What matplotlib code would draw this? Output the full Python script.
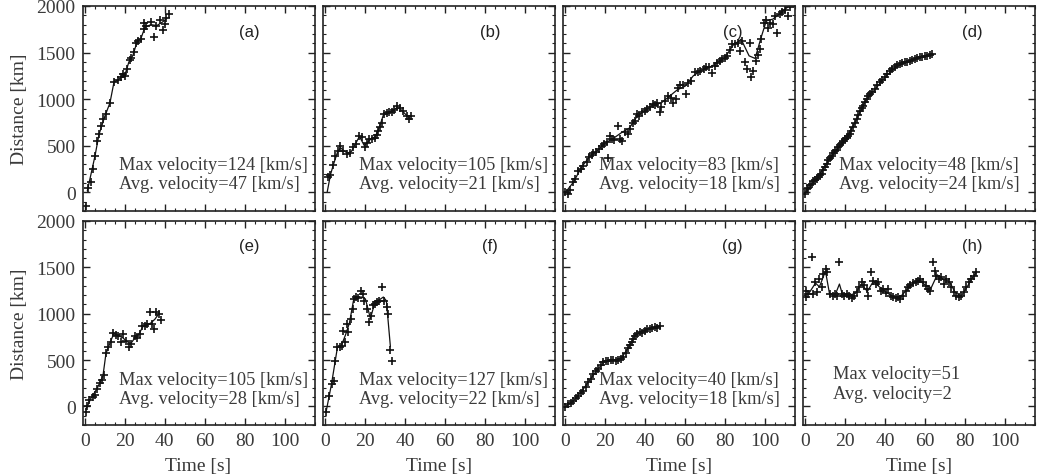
import numpy as np
import matplotlib
matplotlib.use("Agg")
import matplotlib.pyplot as plt
from matplotlib.ticker import MultipleLocator

# ---- measured tracks: marker points (t in s, d in km) and fitted path ----
t_a = [0.5, 1.7, 2.8, 4.2, 5.0, 6.2, 7.0, 8.0, 9.2, 10.5, 12.5, 14.7, 16.7, 17.8, 19.2, 20.0, 21.2,
       22.5, 23.3, 24.5, 25.5, 26.7, 28.3, 29.5, 29.8, 30.8, 33.3, 34.5, 35.8, 37.5, 39.2, 40.0, 40.8, 42.2]
d_a = [-141, 48, 116, 252, 387, 555, 626, 715, 787, 840, 958, 1180, 1208, 1233, 1269, 1245, 1322,
       1422, 1447, 1501, 1608, 1626, 1651, 1750, 1815, 1786, 1829, 1672, 1786, 1850, 1743, 1808, 1875, 1911]
lt_a = [1.2, 5, 7, 10, 12.5, 14.5, 18, 20, 22, 24, 26, 28, 30, 33, 36, 39, 41]
ld_a = [19, 390, 620, 820, 960, 1180, 1230, 1260, 1400, 1470, 1610, 1650, 1770, 1800, 1790, 1830, 1870]

t_b = [1.4, 2.5, 3.9, 4.75, 6.4, 7.2, 8.9, 10.9, 12.25, 13.9, 15.25, 16.9, 18.1, 19.75, 20.6, 21.9,
       23.1, 24.75, 25.6, 26.4, 27.25, 28.1, 29.25, 30.6, 31.9, 33.1, 34.25, 35.9, 37.25, 38.9, 40.9,
       41.9, 42.75]
d_b = [163, 188, 298, 394, 448, 501, 448, 412, 423, 484, 520, 608, 590, 484, 530, 573,
       573, 580, 615, 662, 697, 743, 840, 851, 858, 866, 883, 923, 901, 876, 816,
       787, 823]
lt_b = [0.9, 2.5, 4, 6, 7.5, 9, 11, 13, 15, 17, 19.5, 22, 25, 27, 29, 32, 35, 37, 40, 42]
ld_b = [9, 190, 300, 430, 480, 450, 420, 440, 520, 600, 500, 560, 600, 700, 830, 855, 900, 905, 840, 800]

t_c = [0.0, 1.4, 2.25, 3.9, 4.75, 6.4, 7.6, 8.9, 10.6, 11.9, 13.1, 13.9, 15.25, 16.9, 18.1, 19.4,
       20.6, 21.4, 22.25, 23.4, 24.4, 26.4, 27.25, 28.1, 29.75, 31.4, 32.25, 33.6, 34.75, 35.9,
       36.9, 38.1, 39.75, 40.9, 42.25, 43.6, 44.75, 45.9, 47.25, 48.1, 49.75, 51.4, 52.75, 53.9,
       55.25, 56.4, 57.6, 58.9, 60.25, 61.4, 63.1, 64.75, 66.4, 67.6, 69.25, 70.6, 71.9, 73.6,
       74.75, 75.9, 77.25, 78.6, 79.75, 80.9, 82.25, 83.6, 84.75, 86.4, 87.25, 88.6, 89.75, 90.9,
       92.25, 93.1, 93.9, 95.6, 96.4, 97.25, 98.1, 99.25, 100.25, 101.4, 102.6, 103.9, 104.75,
       105.9, 107.25, 108.6, 109.75, 111.4, 112.6]
d_c = [9, -16, 30, 109, 145, 233, 251, 287, 323, 376, 401, 423, 437, 466, 494, 519,
       544, 366, 601, 573, 566, 709, 573, 555, 651, 626, 680, 744, 769, 840,
       816, 858, 876, 894, 912, 948, 937, 958, 858, 912, 983, 1030, 1009, 958,
       1001, 1116, 1152, 1152, 1055, 1173, 1198, 1294, 1287, 1305, 1323, 1341, 1341, 1280,
       1359, 1388, 1413, 1431, 1438, 1459, 1529, 1590, 1590, 1608, 1519, 1626, 1394, 1323,
       1608, 1234, 1305, 1413, 1474, 1536, 1651, 1822, 1851, 1768, 1815, 1804, 1893,
       1715, 1911, 1936, 1958, 1893, 1993]
lt_c = [0, 4, 8, 12, 16, 20, 24, 28, 32, 36, 40, 44, 48, 52, 56, 60, 64, 68, 72, 76, 80, 84,
        88, 92, 95, 98, 100.6, 104, 108, 112]
ld_c = [0, 110, 270, 380, 450, 530, 580, 640, 690, 820, 880, 940, 960, 1030, 1100, 1140, 1250,
        1310, 1340, 1390, 1450, 1580, 1643, 1465, 1437, 1661, 1839, 1860, 1930, 2000]

t_d = [0.0, 0.6, 1.5, 2.3, 3.1, 4.0, 4.8, 5.6, 6.5, 7.3, 8.1, 9.0, 9.8, 10.6, 11.5, 12.3, 13.1,
       14.0, 14.8, 15.6, 16.5, 17.3, 18.1, 19.0, 19.8, 20.6, 21.4, 22.25, 23.0, 23.9, 24.8, 25.6,
       26.4, 27.25, 28.1, 28.9, 29.8, 30.6, 31.4, 32.25, 33.5, 34.75, 36.0, 37.25, 38.5, 39.75,
       41.0, 42.25, 43.5, 44.75, 46.0, 47.25, 48.5, 49.75, 51.0, 52.25, 53.5, 54.75, 56.0, 57.25,
       58.5, 59.75, 61.0, 62.25, 63.6]
d_d = [-20, 34, 45, 80, 91, 118, 132, 145, 170, 185, 198, 240, 270, 305, 345, 372, 394,
       420, 440, 458, 490, 505, 530, 548, 570, 580, 600, 626, 660, 697, 745, 787,
       830, 876, 905, 930, 975, 1001, 1030, 1055, 1080, 1109, 1150, 1180, 1205, 1234,
       1275, 1305, 1320, 1341, 1365, 1377, 1385, 1394, 1400, 1413, 1425, 1431, 1440, 1449,
       1452, 1459, 1468, 1474, 1484]
lt_d = [0, 5, 10, 15, 20, 25, 30, 35, 40, 45, 50, 55, 60, 64]
ld_d = [0, 130, 290, 440, 560, 760, 980, 1110, 1240, 1340, 1395, 1430, 1460, 1480]

t_e = [0.5, 1.2, 2.0, 3.8, 5.0, 6.2, 7.5, 8.3, 9.5, 10.5, 11.7, 12.8, 14.2, 15.5, 16.7, 17.8,
       19.2, 20.5, 22.2, 23.3, 25.0, 26.2, 27.5, 28.8, 30.0, 31.2, 32.5, 33.8, 34.5, 35.8, 37.2, 38.3]
d_e = [-56, 9, 73, 99, 124, 189, 253, 289, 340, 577, 638, 692, 793, 771, 757, 692,
       782, 710, 638, 674, 757, 735, 782, 872, 864, 890, 1023, 890, 836, 1023, 998, 937]
lt_e = [0.5, 3, 6, 9, 10.5, 12.8, 14.5, 17, 19, 21, 23, 25, 27, 29, 31, 33, 35, 37]
ld_e = [-30, 90, 190, 330, 570, 700, 790, 760, 740, 700, 680, 740, 780, 860, 880, 900, 940, 1000]

t_f = [0.25, 1.9, 3.1, 4.25, 4.75, 5.9, 7.25, 8.1, 8.9, 9.75, 10.6, 11.4, 12.6, 13.6, 14.25,
       15.25, 16.4, 17.6, 18.6, 19.4, 20.6, 21.9, 22.6, 23.6, 24.75, 25.9, 26.9, 28.1, 29.25,
       30.6, 31.4, 32.25, 33.1]
d_f = [-63, 117, 243, 279, 494, 638, 638, 656, 818, 692, 890, 800, 944, 1052, 1160,
       1178, 1167, 1249, 1214, 1142, 1052, 915, 973, 1095, 1106, 1124, 1142, 1286, 1142,
       1070, 998, 613, 494]
lt_f = [0.25, 3, 6, 8, 10, 12, 14, 16, 18, 20, 22.5, 25, 27, 29, 30.5, 32.5]
ld_f = [-63, 240, 640, 660, 770, 900, 1140, 1180, 1180, 1160, 950, 1140, 1150, 1180, 1140, 650]

t_g = [0.0, 1.4, 2.6, 3.9, 5.1, 6.4, 7.6, 8.9, 10.1, 11.4, 12.6, 13.9, 15.1, 16.4, 17.6, 18.9,
       20.1, 21.4, 22.6, 23.9, 25.1, 26.4, 27.6, 28.9, 30.1, 31.4, 32.25, 33.1, 34.0, 34.75,
       36.0, 37.25, 38.5, 39.75, 41.0, 42.25, 43.5, 44.75, 46.0, 47.25]
d_g = [-9, 27, 40, 63, 95, 117, 140, 171, 215, 261, 300, 351, 380, 405, 450, 477,
       485, 494, 500, 505, 495, 505, 512, 530, 580, 628, 660, 692, 730, 764,
       785, 800, 790, 818, 830, 836, 850, 854, 845, 865]
lt_g = [0, 4, 8, 12, 16, 20, 24, 28, 32, 35, 38, 42, 47]
ld_g = [0, 60, 160, 280, 400, 490, 500, 520, 650, 770, 810, 840, 870]

t_h = [0.3, 0.5, 1.4, 3.1, 3.9, 4.75, 5.9, 6.9, 8.1, 8.9, 10.25, 10.9, 12.25, 13.9, 14.75, 15.9,
       16.9, 18.1, 19.25, 20.6, 21.9, 23.1, 24.25, 25.6, 26.9, 28.1, 29.25, 30.6, 31.4, 32.6,
       33.9, 35.25, 36.4, 37.6, 38.9, 40.25, 41.4, 42.6, 43.9, 45.25, 46.4, 47.6, 48.9, 50.25,
       51.4, 52.6, 53.9, 55.25, 56.4, 57.6, 58.9, 60.25, 61.4, 62.6, 63.9, 64.75, 65.6, 66.9,
       68.1, 69.25, 70.6, 71.9, 73.1, 74.25, 75.6, 76.9, 78.1, 79.25, 80.6, 81.9, 83.1, 84.25, 85.25]
d_h = [1249, 1178, 1214, 1609, 1214, 1340, 1232, 1375, 1285, 1429, 1483, 1447, 1214, 1196, 1214, 1196,
       1555, 1214, 1196, 1214, 1196, 1167, 1196, 1232, 1285, 1340, 1311, 1268, 1196, 1447,
       1357, 1322, 1340, 1249, 1268, 1224, 1268, 1196, 1178, 1167, 1178, 1160, 1196, 1249,
       1285, 1311, 1333, 1340, 1357, 1375, 1340, 1304, 1268, 1249, 1555, 1465, 1411, 1375,
       1393, 1322, 1375, 1340, 1285, 1232, 1196, 1178, 1196, 1232, 1285, 1340, 1375, 1411, 1447]
lt_h = [0, 2, 5, 7, 10, 12, 15, 17, 18.5, 22, 25, 28, 31, 34, 37, 40, 44, 47, 50, 54, 57, 60,
        63, 66, 69, 72, 75, 78, 81, 84, 85.5]
ld_h = [1250, 1230, 1330, 1290, 1460, 1220, 1210, 1320, 1210, 1200, 1220, 1320, 1240, 1350, 1290,
        1240, 1180, 1170, 1240, 1330, 1360, 1310, 1280, 1420, 1370, 1350, 1230, 1190, 1290, 1400, 1440]

panels = [
    ("(a)", t_a, d_a, lt_a, ld_a, "124 [km/s]", "47 [km/s]"),
    ("(b)", t_b, d_b, lt_b, ld_b, "105 [km/s]", "21 [km/s]"),
    ("(c)", t_c, d_c, lt_c, ld_c, "83 [km/s]", "18 [km/s]"),
    ("(d)", t_d, d_d, lt_d, ld_d, "48 [km/s]", "24 [km/s]"),
    ("(e)", t_e, d_e, lt_e, ld_e, "105 [km/s]", "28 [km/s]"),
    ("(f)", t_f, d_f, lt_f, ld_f, "127 [km/s]", "22 [km/s]"),
    ("(g)", t_g, d_g, lt_g, ld_g, "40 [km/s]", "18 [km/s]"),
    ("(h)", t_h, d_h, lt_h, ld_h, "51", "2"),
]

W, H = 1039, 477
fig = plt.figure(figsize=(W / 100, H / 100), dpi=100)
serif = "Liberation Serif"
txtc = "#3a3a3a"

lefts = [82.5, 323, 563, 803]
rows = [(7, 212), (222, 426)]
pw = 232

for i, (lab, t, d, lt, ld, vmax, vavg) in enumerate(panels):
    r, c = divmod(i, 4)
    top, bot = rows[r]
    ax = fig.add_axes([lefts[c] / W, 1 - bot / H, pw / W, (bot - top) / H])
    ax.plot(lt, ld, color="#111111", lw=0.9)
    ax.plot(t, d, ls="none", marker="+", ms=6, mew=1.2, color="#111111")
    ax.set_xlim(-1.25, 115)
    ax.set_ylim(-200, 2000)
    ax.xaxis.set_major_locator(MultipleLocator(20))
    ax.xaxis.set_minor_locator(MultipleLocator(5))
    ax.yaxis.set_major_locator(MultipleLocator(500))
    ax.yaxis.set_minor_locator(MultipleLocator(100))
    ax.tick_params(which="both", direction="in", top=True, right=True, colors="#222222",
                   labelcolor=txtc, labelsize=14, pad=5)
    ax.tick_params(which="major", length=5, width=1)
    ax.tick_params(which="minor", length=2.5, width=0.8)
    for lbl in ax.get_xticklabels() + ax.get_yticklabels():
        lbl.set_family(serif)
    for s in ax.spines.values():
        s.set_linewidth(1.2)
        s.set_color("#222222")
    if c != 0:
        ax.set_yticklabels([])
    else:
        ax.set_ylabel("Distance [km]", family=serif, fontsize=14, color=txtc, labelpad=6)
    if r == 0:
        ax.set_xticklabels([])
    else:
        ax.set_xlabel("Time [s]", family=serif, fontsize=14, color=txtc, labelpad=6)

    ax.text(0.72 if c == 0 or c == 1 else 0.73, 0.878, lab, transform=ax.transAxes,
            ha="center", va="center", family="Liberation Sans", fontsize=12, color="#222222")
    if lab == "(h)":
        tx, y1, y2 = 0.13, 0.25, 0.152
    else:
        tx, y1 = 0.156, (0.229 if r == 0 else 0.225)
        y2 = y1 - 0.097
    ax.text(tx, y1, "Max velocity=" + vmax, transform=ax.transAxes, ha="left", va="center",
            family=serif, fontsize=13.2, color=txtc)
    ax.text(tx, y2, "Avg. velocity=" + vavg, transform=ax.transAxes, ha="left", va="center",
            family=serif, fontsize=13.2, color=txtc)

fig.savefig("out.png", dpi=100)
